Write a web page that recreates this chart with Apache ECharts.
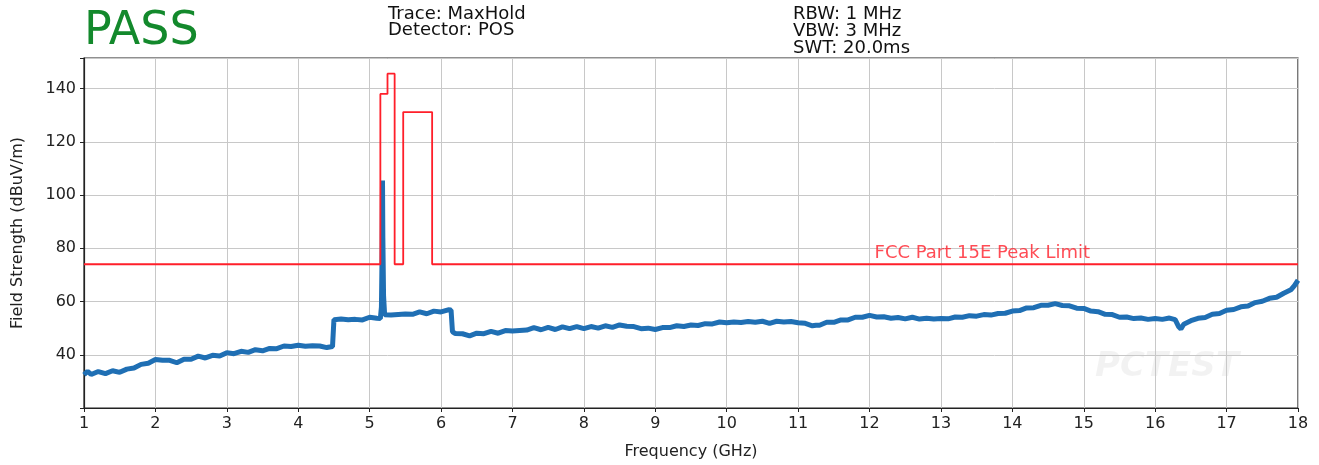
<!DOCTYPE html>
<html>
<head>
<meta charset="utf-8">
<script src="https://cdn.jsdelivr.net/npm/echarts@6/dist/echarts.min.js"></script>
<style>
html,body{margin:0;padding:0;background:#fff;}
#chart{width:1319px;height:465px;}
</style>
</head>
<body>
<div id="chart"></div>
<script>
// ---- data ----
const xTicks = [1,2,3,4,5,6,7,8,9,10,11,12,13,14,15,16,17,18];
const yTicks = [40,60,80,100,120,140];

const traceFreq = [
 1.0,1.05,1.1,1.2,1.3,1.4,1.5,1.6,1.7,1.8,1.9,2.0,2.1,2.2,2.3,2.4,2.5,2.6,2.7,2.8,2.9,
 3.0,3.1,3.2,3.3,3.4,3.5,3.6,3.7,3.8,3.9,4.0,4.1,4.2,4.3,4.4,4.48,4.5,4.6,4.7,4.8,4.9,
 5.0,5.1,5.15,5.165,5.175,5.18,5.185,5.195,5.21,5.3,5.4,5.5,5.6,5.7,5.8,5.9,6.0,6.1,6.14,
 6.16,6.2,6.3,6.4,6.5,6.6,6.7,6.8,6.9,7.0,7.1,7.2,7.3,7.4,7.5,7.6,7.7,7.8,7.9,
 8.0,8.1,8.2,8.3,8.4,8.5,8.6,8.7,8.8,8.9,9.0,9.1,9.2,9.3,9.4,9.5,9.6,9.7,9.8,9.9,
 10.0,10.1,10.2,10.3,10.4,10.5,10.6,10.7,10.8,10.9,11.0,11.1,11.2,11.25,11.3,11.4,11.5,11.6,11.7,11.8,11.9,
 12.0,12.1,12.2,12.3,12.4,12.5,12.6,12.7,12.8,12.9,13.0,13.1,13.2,13.3,13.4,13.5,13.6,13.7,13.8,13.9,
 14.0,14.1,14.2,14.3,14.4,14.5,14.6,14.7,14.8,14.9,15.0,15.1,15.2,15.3,15.4,15.5,15.6,15.7,15.8,15.9,
 16.0,16.1,16.2,16.28,16.33,16.36,16.4,16.5,16.6,16.7,16.8,16.9,17.0,17.1,17.2,17.3,17.4,17.5,17.6,17.7,17.8,17.9,17.95,18.0
];
const traceLevel = [
 32.5,33.8,32.6,33.7,32.9,34.0,33.4,34.6,35.0,36.4,36.8,38.2,37.9,37.9,37.0,38.3,38.3,39.5,38.8,39.8,39.5,
 40.8,40.4,41.3,40.9,41.9,41.5,42.4,42.3,43.3,43.1,43.6,43.2,43.4,43.3,42.7,43.1,53.2,53.4,53.2,53.3,53.1,
 54.1,53.7,53.6,58.0,80.0,105.5,84.0,62.0,55.0,54.9,55.1,55.3,55.2,56.1,55.4,56.4,56.1,56.9,56.8,
 48.6,48.0,47.9,47.1,48.1,47.9,48.8,48.1,49.1,48.9,49.1,49.3,50.2,49.4,50.3,49.5,50.5,49.8,50.6,
 49.8,50.6,50.0,50.9,50.3,51.2,50.7,50.6,49.8,50.0,49.5,50.2,50.2,50.9,50.6,51.2,51.0,51.7,51.6,52.3,
 52.0,52.3,52.1,52.5,52.2,52.6,51.8,52.6,52.3,52.5,52.0,51.8,50.9,51.1,51.1,52.2,52.2,53.1,53.1,54.1,54.1,
 54.8,54.2,54.3,53.7,54.0,53.5,54.1,53.4,53.7,53.4,53.6,53.5,54.2,54.1,54.7,54.5,55.1,54.9,55.5,55.6,
 56.4,56.6,57.6,57.7,58.6,58.6,59.2,58.5,58.4,57.5,57.4,56.4,56.2,55.2,55.1,54.1,54.2,53.6,53.8,53.3,
 53.6,53.3,53.8,53.2,50.5,49.7,51.5,52.8,53.7,54.0,55.2,55.5,56.7,57.0,58.0,58.3,59.6,60.1,61.2,61.6,63.1,64.4,66.0,68.0
];

const limitFreq  = [1, 5.15, 5.15, 5.25, 5.25, 5.35, 5.35, 5.47, 5.47, 5.875, 5.875, 18];
const limitLevel = [74, 74, 138, 138, 145.6, 145.6, 74, 74, 131.2, 131.2, 74, 74];
const limitLabel = 'FCC Part 15E Peak Limit';
const limitLabelAt = [12.07, 74];

const headerLeft  = ['Trace: MaxHold', 'Detector: POS'];
const headerRight = ['RBW: 1 MHz', 'VBW: 3 MHz', 'SWT: 20.0ms'];
const verdict = 'PASS';

// ---- build ----
const zip = (a, b) => a.map((v, i) => [v, b[i]]);
const FONT = '"DejaVu Sans", sans-serif';
const RED = '#ff1f2a';
const BLUE = '#1f6fb4';

const chart = echarts.init(document.getElementById('chart'), null, {renderer: 'canvas'});
chart.setOption({
  animation: false,
  backgroundColor: '#ffffff',
  textStyle: {fontFamily: FONT},
  grid: {left: 84, right: 21, top: 58, bottom: 57, show: true, borderColor: '#222', borderWidth: 1.2, backgroundColor: 'transparent'},
  xAxis: {
    type: 'value', min: 1, max: 18, interval: 1,
    name: 'Frequency (GHz)', nameLocation: 'middle', nameGap: 36,
    nameTextStyle: {fontFamily: FONT, fontSize: 16, color: '#222'},
    axisLine: {show: true, lineStyle: {color: '#222', width: 1.2}},
    axisTick: {show: true, length: 4, lineStyle: {color: '#222'}},
    axisLabel: {fontFamily: FONT, fontSize: 16, color: '#222', margin: 8,
      formatter: v => xTicks.includes(v) ? String(v) : ''},
    splitLine: {show: true, lineStyle: {color: '#c8c8c8', width: 1}}
  },
  yAxis: {
    type: 'value', min: 20, max: 151.5, interval: 20,
    name: 'Field Strength (dBuV/m)', nameLocation: 'middle', nameGap: 58,
    nameTextStyle: {fontFamily: FONT, fontSize: 16, color: '#222'},
    axisLine: {show: true, lineStyle: {color: '#222', width: 1.2}},
    axisTick: {show: true, length: 4, lineStyle: {color: '#222'}},
    axisLabel: {fontFamily: FONT, fontSize: 16, color: '#222', margin: 8,
      formatter: v => yTicks.includes(v) ? String(v) : ''},
    splitLine: {show: true, lineStyle: {color: '#c8c8c8', width: 1}}
  },
  series: [
    {
      type: 'line', data: zip(traceFreq, traceLevel), showSymbol: false, symbol: 'none',
      lineStyle: {color: BLUE, width: 5}, z: 3
    },
    {
      type: 'line', data: zip(limitFreq, limitLevel), showSymbol: false, symbol: 'none',
      lineStyle: {color: RED, width: 1.8}, z: 4
    },
    {
      type: 'scatter', data: [limitLabelAt], symbolSize: 0, z: 5,
      label: {show: true, formatter: limitLabel, position: [0, -20],
        fontFamily: FONT, fontSize: 18, color: RED}
    }
  ],
  graphic: [
    {type: 'text', left: 84, top: 9, style: {text: verdict, font: '46px ' + FONT, fill: '#13892c'}},
    {type: 'text', left: 388, top: 5, style: {text: headerLeft.join('\n'), font: '18px ' + FONT, fill: '#111', lineHeight: 16.5}},
    {type: 'text', left: 793, top: 5, style: {text: headerRight.join('\n'), font: '18px ' + FONT, fill: '#111', lineHeight: 17}},
    {type: 'text', left: 1095, top: 350, z: 0, style: {text: 'PCTEST', font: 'italic bold 34px ' + FONT, fill: 'rgba(0,0,0,0.05)'}}
  ]
});
</script>
</body>
</html>
